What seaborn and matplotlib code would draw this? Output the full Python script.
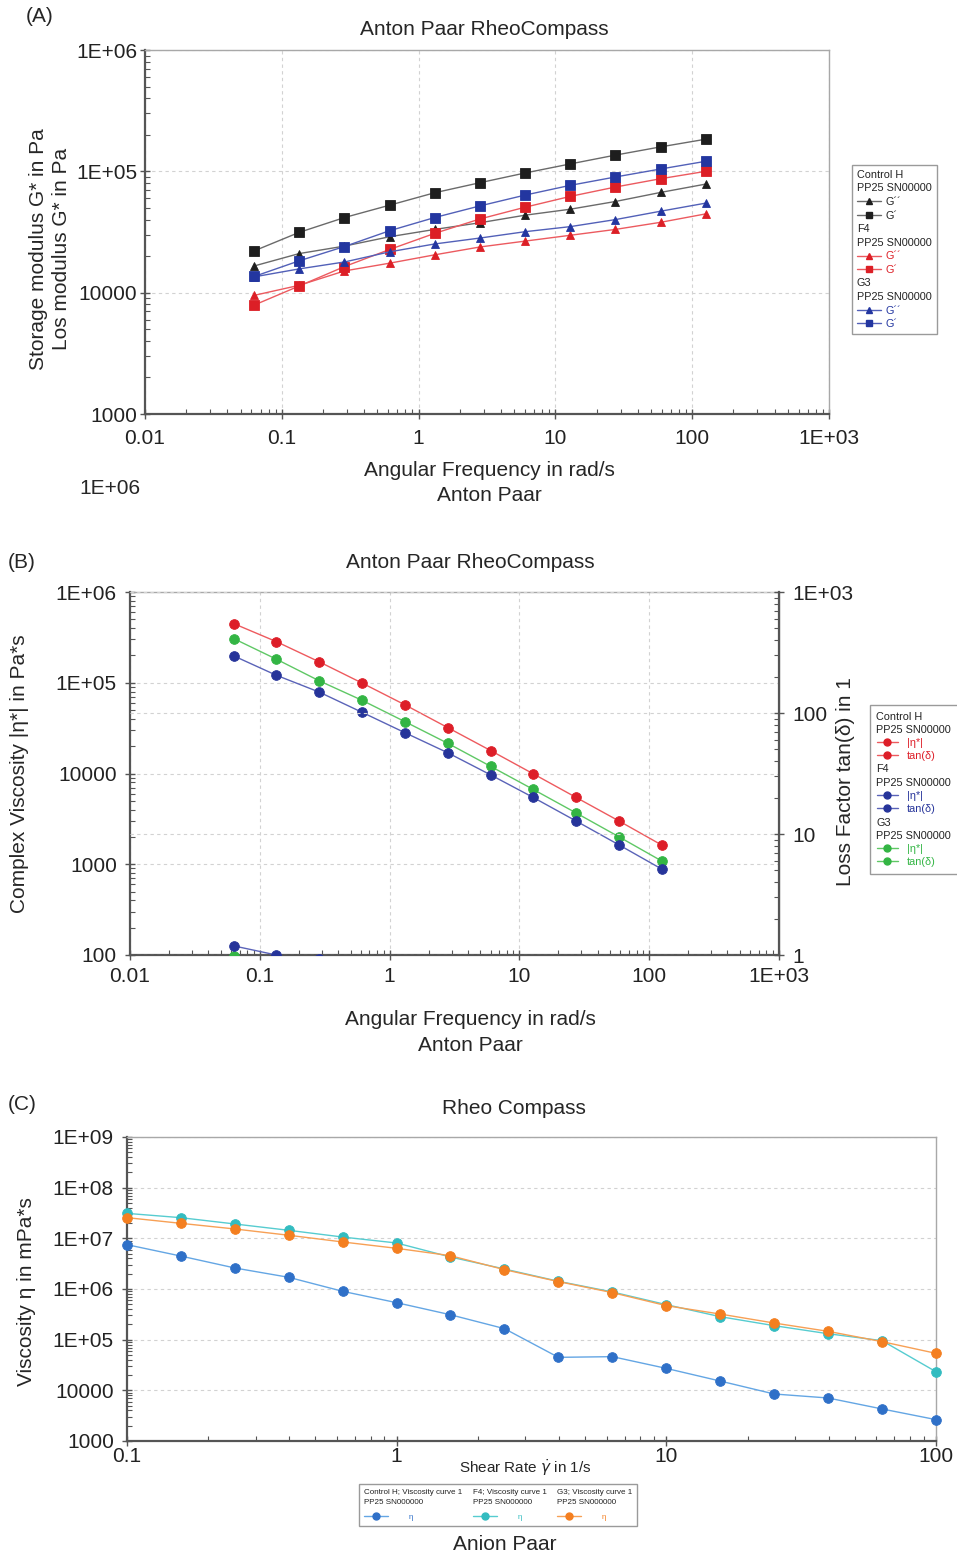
import numpy as np
import pandas as pd
import matplotlib
matplotlib.use("Agg")
import matplotlib.pyplot as plt
import seaborn as sns
from matplotlib.lines import Line2D
from matplotlib.ticker import LogLocator, NullFormatter

# ---------------- data, panel A : frequency sweep, moduli ----------------
omega = [0.0628, 0.134, 0.287, 0.614, 1.31, 2.81, 6.0, 12.8, 27.4, 58.7, 125.6]
ctrl_gp = [22100, 31400, 41600, 52600, 66600, 80600, 96900, 115000, 136000, 159000, 184000]
ctrl_gpp = [16600, 21000, 24200, 28900, 33200, 37700, 43500, 48700, 56400, 67000, 78500]
f4_gp = [7900, 11350, 16400, 22700, 30800, 40500, 50600, 62100, 74200, 86900, 100000]
f4_gpp = [9500, 11500, 15100, 17500, 20500, 23800, 26600, 29700, 33200, 38000, 44600]
g3_gp = [13600, 18300, 24000, 32400, 41600, 51900, 63700, 76600, 89800, 104500, 121000]
g3_gpp = [13500, 15700, 17900, 21700, 25200, 28200, 31800, 35000, 40000, 46900, 54700]

# ---------------- data, panel B : complex viscosity and tan(delta) ----------------
ctrl_eta = [449000, 284000, 170000, 99200, 57200, 32000, 17900, 9910, 5440, 2990, 1620]
f4_eta = [198000, 121000, 78900, 47200, 28200, 16900, 9660, 5440, 2990, 1630, 881]
g3_eta = [307000, 182000, 105000, 64000, 37300, 21500, 12000, 6670, 3670, 2000, 1080]
ctrl_tan = [0.75, 0.67, 0.58, 0.55, 0.50, 0.47, 0.45, 0.42, 0.41, 0.42, 0.43]
f4_tan = [1.19, 1.0, 0.92, 0.77, 0.67, 0.59, 0.53, 0.48, 0.45, 0.44, 0.45]
g3_tan = [0.99, 0.86, 0.75, 0.67, 0.61, 0.54, 0.50, 0.46, 0.45, 0.45, 0.45]

# ---------------- data, panel C : viscosity curve ----------------
shear = [0.1, 0.158, 0.251, 0.398, 0.631, 1.0, 1.58, 2.51, 3.98, 6.31,
         10.0, 15.8, 25.1, 39.8, 63.1, 100.0]
ctrl_visc = [7.5e6, 4.48e6, 2.6e6, 1.70e6, 8.99e5, 5.37e5, 3.11e5, 1.65e5, 4.48e4, 4.62e4,
             2.71e4, 1.53e4, 8470, 7060, 4290, 2640]
f4_visc = [3.11e7, 2.56e7, 1.92e7, 1.44e7, 1.06e7, 8.09e6, 4.29e6, 2.48e6, 1.42e6, 8.73e5,
           4.91e5, 2.85e5, 1.89e5, 1.31e5, 9.55e4, 2.33e4]
g3_visc = [2.56e7, 1.98e7, 1.53e7, 1.15e7, 8.47e6, 6.35e6, 4.55e6, 2.41e6, 1.40e6, 8.47e5,
           4.69e5, 3.21e5, 2.13e5, 1.46e5, 9.14e4, 5.37e4]

# ---------------- tick labels ----------------
freq_ticks = [0.01, 0.1, 1, 10, 100, 1000]
freq_labels = ["0.01", "0.1", "1", "10", "100", "1E+03"]
mod_ticks = [1000, 10000, 1e5, 1e6]
mod_labels = ["1000", "10000", "1E+05", "1E+06"]
eta_ticks = [100, 1000, 10000, 1e5, 1e6]
eta_labels = ["100", "1000", "10000", "1E+05", "1E+06"]
tan_ticks = [1, 10, 100, 1000]
tan_labels = ["1", "10", "100", "1E+03"]
shear_ticks = [0.1, 1, 10, 100]
shear_labels = ["0.1", "1", "10", "100"]
visc_ticks = [1000, 10000, 1e5, 1e6, 1e7, 1e8, 1e9]
visc_labels = ["1000", "10000", "1E+05", "1E+06", "1E+07", "1E+08", "1E+09"]

sns.set_theme(style="white")
plt.rcParams["font.family"] = ["Liberation Sans", "DejaVu Sans"]
plt.rcParams["mathtext.fontset"] = "dejavusans"

W, H = 957, 1557
FS = 15
fig = plt.figure(figsize=(W / 100, H / 100), dpi=100)


def px_axes(x0, y0, x1, y1):
    return fig.add_axes([x0 / W, 1 - y1 / H, (x1 - x0) / W, (y1 - y0) / H])


def minor_log(axis):
    axis.set_minor_locator(LogLocator(base=10, subs=np.arange(2, 10), numticks=20))
    axis.set_minor_formatter(NullFormatter())


def style_axes(ax, grid_axis="both"):
    for s in ["top", "right"]:
        ax.spines[s].set_color("#a8a8a8")
        ax.spines[s].set_linewidth(1.0)
    for s in ["left", "bottom"]:
        ax.spines[s].set_color("#555555")
        ax.spines[s].set_linewidth(1.6)
    ax.tick_params(which="major", direction="inout", length=7, width=1.0,
                   color="#555555", labelcolor="#222222", labelsize=FS,
                   bottom=True, left=True, top=False, right=False)
    ax.tick_params(which="minor", direction="in", length=3.5, width=0.8,
                   color="#555555", bottom=True, left=True, top=False, right=False)
    ax.grid(True, axis=grid_axis, which="major", ls=(0, (3, 3)), color="#d2d2d2", lw=0.8)
    ax.set_axisbelow(True)


def draw(ax, x, y, line_c, mark_c, marker, ms, lw=1.0, z=3):
    sns.lineplot(x=x, y=y, ax=ax, color=line_c, marker=marker, markersize=ms,
                 markerfacecolor=mark_c, markeredgecolor=mark_c, markeredgewidth=0.6,
                 linewidth=lw, legend=False, zorder=z, estimator=None, sort=False)


def header_fix(leg, header_idx):
    # header rows get no handle space, so their text starts at the left edge
    try:
        k = 0
        for col in leg._legend_handle_box.get_children():
            for row in col.get_children():
                if k in header_idx:
                    row.get_children()[0].set_width(0)
                    row.sep = 0
                k += 1
    except Exception:
        pass


def mk(c_l, c_m, m, ms):
    return Line2D([], [], color=c_l, marker=m, markersize=ms, markerfacecolor=c_m,
                  markeredgecolor=c_m, lw=1.0)


blank = Line2D([], [], ls="none")

# ======================= panel A =======================
axA = px_axes(145, 50, 829, 414)
style_axes(axA)
black_l, black_m = "#6a6a6a", "#1e1e1e"
red_l, red_m = "#ec5a5f", "#dc1f26"
blue_l, blue_m = "#5260b8", "#2336a0"
draw(axA, omega, ctrl_gpp, black_l, black_m, "^", 6)
draw(axA, omega, ctrl_gp, black_l, black_m, "s", 7)
draw(axA, omega, f4_gpp, red_l, red_m, "^", 6)
draw(axA, omega, f4_gp, red_l, red_m, "s", 7)
draw(axA, omega, g3_gpp, blue_l, blue_m, "^", 6)
draw(axA, omega, g3_gp, blue_l, blue_m, "s", 7)
axA.set_xscale("log")
axA.set_yscale("log")
axA.set_xlim(0.01, 1000)
axA.set_ylim(1000, 1e6)
axA.set_xticks(freq_ticks, freq_labels)
axA.set_yticks(mod_ticks, mod_labels)
minor_log(axA.xaxis)
minor_log(axA.yaxis)
axA.tick_params(axis="x", which="major", pad=7)
axA.tick_params(axis="y", which="major", pad=2)
axA.set_xlabel("Angular Frequency in rad/s\nAnton Paar", fontsize=FS, linespacing=1.45)
axA.xaxis.set_label_coords(0.504, -0.128)
axA.set_ylabel("Storage modulus G* in Pa\nLos modulus G* in Pa", fontsize=FS, linespacing=1.3)
axA.yaxis.set_label_coords(-0.108, 0.453)
axA.text(0.4956, 1.055, "Anton Paar RheoCompass", transform=axA.transAxes,
         ha="center", va="center", fontsize=FS)

hA = [blank, blank, mk(black_l, black_m, "^", 4.5), mk(black_l, black_m, "s", 5),
      blank, blank, mk(red_l, red_m, "^", 4.5), mk(red_l, red_m, "s", 5),
      blank, blank, mk(blue_l, blue_m, "^", 4.5), mk(blue_l, blue_m, "s", 5)]
lA = ["Control H", "PP25 SN00000", "G\u00b4\u00b4", "G\u00b4",
      "F4", "PP25 SN00000", "G\u00b4\u00b4", "G\u00b4",
      "G3", "PP25 SN00000", "G\u00b4\u00b4", "G\u00b4"]
cA = ["#222222"] * 4 + ["#222222", "#222222", red_m, red_m] + ["#222222", "#222222", blue_m, blue_m]
legA = axA.legend(hA, lA, loc="upper left", bbox_to_anchor=(852 / W, 1 - 165 / H),
                  bbox_transform=fig.transFigure, fontsize=7.8, frameon=True, fancybox=False,
                  edgecolor="#9a9a9a", framealpha=1, handlelength=2.2, handletextpad=0.4,
                  labelspacing=0.33, borderpad=0.45, borderaxespad=0)
legA.get_frame().set_linewidth(1.0)
header_fix(legA, {0, 1, 4, 5, 8, 9})
for t, c in zip(legA.get_texts(), cA):
    t.set_color(c)

fig.text(40 / W, 1 - 17 / H, "(A)", ha="center", va="center", fontsize=FS)
fig.text(110 / W, 1 - 489 / H, "1E+06", ha="center", va="center", fontsize=FS)

# ======================= panel B =======================
axB = px_axes(130, 592, 779, 955)
style_axes(axB)
r_l, r_m = "#ee5a5e", "#dd1e28"
b_l, b_m = "#5a63b8", "#26349a"
g_l, g_m = "#5fc865", "#33b544"
draw(axB, omega, ctrl_eta, r_l, r_m, "o", 7)
draw(axB, omega, g3_eta, g_l, g_m, "o", 7)
draw(axB, omega, f4_eta, b_l, b_m, "o", 7)
axB.set_xscale("log")
axB.set_yscale("log")
axB.set_xlim(0.01, 1000)
axB.set_ylim(100, 1e6)

axB2 = axB.twinx()
draw(axB2, omega, ctrl_tan, r_l, r_m, "o", 7)
draw(axB2, omega, g3_tan, g_l, g_m, "o", 7)
draw(axB2, omega, f4_tan, b_l, b_m, "o", 7)
axB2.set_yscale("log")
axB2.set_ylim(1, 1000)
axB2.set_yticks(tan_ticks, tan_labels)
minor_log(axB2.yaxis)
axB2.spines["right"].set_color("#555555")
axB2.spines["right"].set_linewidth(1.6)
for s in ["top", "left", "bottom"]:
    axB2.spines[s].set_visible(False)
axB2.tick_params(axis="y", which="major", direction="inout", length=7, width=1.0,
                 color="#555555", labelcolor="#222222", labelsize=FS, pad=6,
                 right=True, left=False)
axB2.tick_params(axis="y", which="minor", direction="in", length=3.5, width=0.8,
                 color="#555555", right=True, left=False)
axB2.grid(True, axis="y", which="major", ls=(0, (3, 3)), color="#d2d2d2", lw=0.8)

# shared x axis: set ticks after the twin has been built
axB.set_xlim(0.01, 1000)
axB.set_xticks(freq_ticks, freq_labels)
axB.set_yticks(eta_ticks, eta_labels)
minor_log(axB.xaxis)
minor_log(axB.yaxis)
axB.tick_params(axis="x", which="major", pad=5)
axB.tick_params(axis="y", which="major", pad=6)

axB.set_xlabel("Angular Frequency in rad/s\nAnton Paar", fontsize=FS, linespacing=1.45)
axB.xaxis.set_label_coords(0.524, -0.152)
axB.set_ylabel("Complex Viscosity |\u03b7*| in Pa*s", fontsize=FS)
axB.yaxis.set_label_coords(-0.155, 0.50)
axB2.set_ylabel("Loss Factor tan(\u03b4) in 1", fontsize=FS)
axB2.yaxis.set_label_coords(1.088, 0.479)
axB.text(0.524, 1.080, "Anton Paar RheoCompass", transform=axB.transAxes,
         ha="center", va="center", fontsize=FS)
fig.text(22 / W, 1 - 563 / H, "(B)", ha="center", va="center", fontsize=FS)

hB = [blank, blank, mk(r_l, r_m, "o", 5), mk(r_l, r_m, "o", 5),
      blank, blank, mk(b_l, b_m, "o", 5), mk(b_l, b_m, "o", 5),
      blank, blank, mk(g_l, g_m, "o", 5), mk(g_l, g_m, "o", 5)]
lB = ["Control H", "PP25 SN00000", "|\u03b7*|", "tan(\u03b4)",
      "F4", "PP25 SN00000", "|\u03b7*|", "tan(\u03b4)",
      "G3", "PP25 SN00000", "|\u03b7*|", "tan(\u03b4)"]
cB = ["#222222", "#222222", r_m, r_m, "#222222", "#222222", b_m, b_m,
      "#222222", "#222222", g_m, g_m]
legB = axB2.legend(hB, lB, loc="upper left", bbox_to_anchor=(870 / W, 1 - 705 / H),
                   bbox_transform=fig.transFigure, fontsize=7.8, frameon=True, fancybox=False,
                   edgecolor="#9a9a9a", framealpha=1, handlelength=2.0, handletextpad=0.8,
                   labelspacing=0.3, borderpad=0.6, borderaxespad=0)
legB.get_frame().set_linewidth(1.0)
header_fix(legB, {0, 1, 4, 5, 8, 9})
for t, c in zip(legB.get_texts(), cB):
    t.set_color(c)

# ======================= panel C =======================
axC = px_axes(127, 1137, 936, 1441)
style_axes(axC, grid_axis="y")
cb_l, cb_m = "#64a6e4", "#2f70c8"
cc_l, cc_m = "#56ccd0", "#33bcc0"
co_l, co_m = "#f7a055", "#f47f20"
draw(axC, shear, ctrl_visc, cb_l, cb_m, "o", 7)
draw(axC, shear, f4_visc, cc_l, cc_m, "o", 7)
draw(axC, shear, g3_visc, co_l, co_m, "o", 7)
axC.set_xscale("log")
axC.set_yscale("log")
axC.set_xlim(0.1, 100)
axC.set_ylim(1000, 1e9)
axC.set_xticks(shear_ticks, shear_labels)
axC.set_yticks(visc_ticks, visc_labels)
minor_log(axC.xaxis)
minor_log(axC.yaxis)
axC.tick_params(axis="x", which="major", pad=1)
axC.tick_params(axis="y", which="major", pad=6)
for ln in axC.lines:
    ln.set_clip_on(False)
axC.set_xlabel("Shear Rate $\\dot{\\gamma}$ in 1/s", fontsize=11)
axC.xaxis.set_label_coords(0.492, -0.052)
axC.set_ylabel("Viscosity \u03b7 in mPa*s", fontsize=FS)
axC.yaxis.set_label_coords(-0.113, 0.493)
axC.text(0.478, 1.095, "Rheo Compass", transform=axC.transAxes,
         ha="center", va="center", fontsize=FS)
fig.text(22 / W, 1 - 1104 / H, "(C)", ha="center", va="center", fontsize=FS)
fig.text(505 / W, 1 - 1545 / H, "Anion Paar", ha="center", va="center", fontsize=FS)

hC = [blank, mk(cb_l, cb_m, "o", 5), blank, mk(cc_l, cc_m, "o", 5),
      blank, mk(co_l, co_m, "o", 5)]
lC = ["Control H; Viscosity curve 1\nPP25 SN000000", "\u03b7",
      "F4; Viscosity curve 1\nPP25 SN000000", "\u03b7",
      "G3; Viscosity curve 1\nPP25 SN000000", "\u03b7"]
cC = ["#222222", cb_m, "#222222", cc_m, "#222222", co_m]
legC = axC.legend(hC, lC, loc="upper left", bbox_to_anchor=(359 / W, 1 - 1484 / H),
                  bbox_transform=fig.transFigure, ncols=3, fontsize=5.8, frameon=True,
                  fancybox=False, edgecolor="#9a9a9a", framealpha=1, handlelength=3.0,
                  handletextpad=2.6, labelspacing=0.9, borderpad=0.6, columnspacing=1.3,
                  borderaxespad=0)
legC.get_frame().set_linewidth(1.0)
header_fix(legC, {0, 2, 4})
for t, c in zip(legC.get_texts(), cC):
    t.set_color(c)
    t.set_linespacing(1.6)

fig.savefig("out.png", dpi=100)
